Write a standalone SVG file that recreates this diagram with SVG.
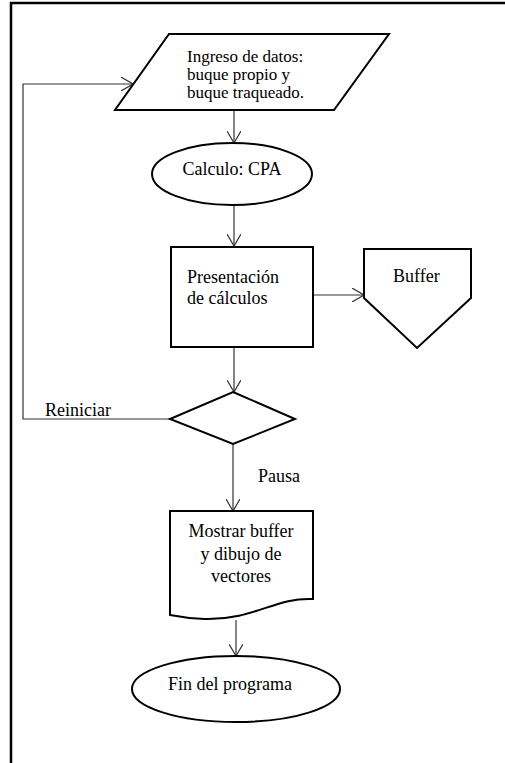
<svg xmlns="http://www.w3.org/2000/svg" width="505" height="763" viewBox="0 0 505 763">
  <style>
    .shape { fill: #ffffff; stroke: #000000; stroke-width: 2; stroke-linejoin: miter; }
    .frame { fill: none; stroke: #000000; stroke-width: 2.5; }
    .conn { fill: none; stroke: #333333; stroke-width: 1.2; }
    .label { font-family: 'Liberation Serif', 'DejaVu Serif', serif; font-size: 18px; fill: #000000; }
    .tight { font-size: 17px; }
    .mid { text-anchor: middle; }
  </style>
  <defs>
    <marker id="arrow" viewBox="0 0 12 14" refX="12" refY="7" markerWidth="12" markerHeight="14" markerUnits="userSpaceOnUse" orient="auto">
      <path d="M0,0 L12,7 L0,14" fill="none" stroke="#333333" stroke-width="1.2"/>
    </marker>
  </defs>

  <rect width="505" height="763" fill="#ffffff"/>
  <path class="frame" d="M11,763 V3 H505"/>

  <g font-family="Liberation Serif, DejaVu Serif, serif">
  <g id="connectors">
    <line class="conn" x1="234" y1="110" x2="234" y2="143" marker-end="url(#arrow)"/>
    <line class="conn" x1="234" y1="205" x2="234" y2="246" marker-end="url(#arrow)"/>
    <line class="conn" x1="313" y1="295" x2="364" y2="295" marker-end="url(#arrow)"/>
    <line class="conn" x1="234" y1="347" x2="234" y2="392" marker-end="url(#arrow)"/>
    <polyline class="conn" points="170,419 23,419 23,84 133,84" marker-end="url(#arrow)"/>
    <line class="conn" x1="233" y1="444" x2="233" y2="511" marker-end="url(#arrow)"/>
    <line class="conn" x1="236" y1="620" x2="236" y2="656" marker-end="url(#arrow)"/>
    <text class="label" x="45" y="416">Reiniciar</text>
    <text class="label" x="258" y="482">Pausa</text>
  </g>

  <g id="ingreso">
    <polygon class="shape" points="169,34 389,34 334,110 115,110"/>
    <text class="label tight" x="187" y="62">Ingreso de datos:</text>
    <text class="label tight" x="187" y="80">buque propio y</text>
    <text class="label tight" x="187" y="98">buque traqueado.</text>
  </g>

  <g id="calculo">
    <ellipse class="shape" cx="232" cy="174" rx="80" ry="31"/>
    <text class="label mid" x="232" y="175">Calculo: CPA</text>
  </g>

  <g id="presentacion">
    <rect class="shape" x="171" y="247" width="142" height="100"/>
    <text class="label" x="187" y="283">Presentación</text>
    <text class="label" x="187" y="304">de cálculos</text>
  </g>

  <g id="buffer">
    <polygon class="shape" points="364,249 471,249 471,298 417,348 364,298"/>
    <text class="label" x="393" y="282">Buffer</text>
  </g>

  <g id="decision">
    <polygon class="shape" points="233,392 295,419 233,444 170,419"/>
  </g>

  <g id="mostrar">
    <path class="shape" d="M170,511 H313 V599 C275,597 255,620 205,619 C190,618.5 180,617 170,615 Z"/>
    <text class="label mid" x="241" y="537">Mostrar buffer</text>
    <text class="label mid" x="241" y="560">y dibujo de</text>
    <text class="label mid" x="241" y="582">vectores</text>
  </g>

  <g id="fin">
    <ellipse class="shape" cx="236" cy="689" rx="104" ry="33"/>
    <text class="label mid" x="230" y="690">Fin del programa</text>
  </g>
  </g>
</svg>
